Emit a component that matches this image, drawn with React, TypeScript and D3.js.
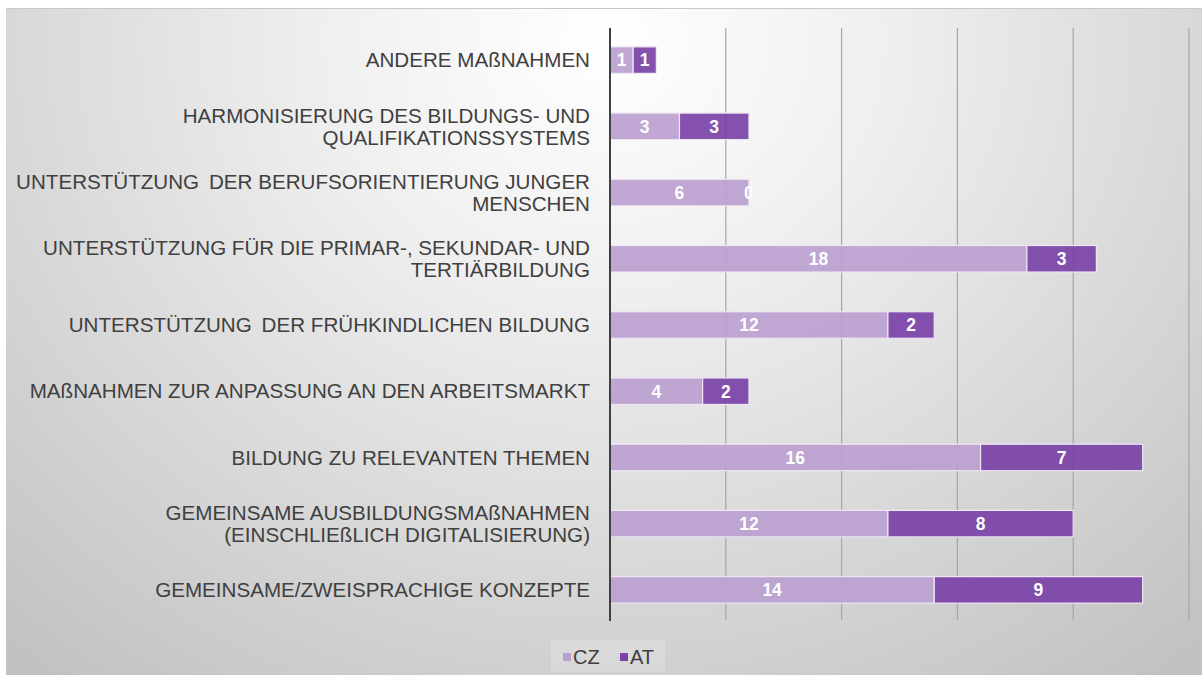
import * as d3 from "d3";
import React from "react";

// categories, top to bottom, already split into the lines shown
const categories: string[][] = [
  ["ANDERE MAßNAHMEN"],
  ["HARMONISIERUNG DES BILDUNGS- UND", "QUALIFIKATIONSSYSTEMS"],
  ["UNTERSTÜTZUNG\u2009 DER BERUFSORIENTIERUNG JUNGER", "MENSCHEN"],
  ["UNTERSTÜTZUNG FÜR DIE PRIMAR-, SEKUNDAR- UND", "TERTIÄRBILDUNG"],
  ["UNTERSTÜTZUNG\u2009 DER FRÜHKINDLICHEN BILDUNG"],
  ["MAßNAHMEN ZUR ANPASSUNG AN DEN ARBEITSMARKT"],
  ["BILDUNG ZU RELEVANTEN THEMEN"],
  ["GEMEINSAME AUSBILDUNGSMAßNAHMEN", "(EINSCHLIEßLICH DIGITALISIERUNG)"],
  ["GEMEINSAME/ZWEISPRACHIGE KONZEPTE"],
];
const cz = [1, 3, 6, 18, 12, 4, 16, 12, 14];
const at = [1, 3, 0, 3, 2, 2, 7, 8, 9];
const seriesNames = ["CZ", "AT"];
const colors = ["#bb9fd0", "#7a42a7"];
const gridTicks = [5, 10, 15, 20, 25];

const W = 1202;
const H = 675;

export default function App() {
  const x = d3.scaleLinear().domain([0, 25]).range([610, 1189]);
  const y = d3
    .scaleBand<number>()
    .domain(d3.range(categories.length))
    .range([27, 623])
    .paddingInner(0.6)
    .paddingOuter(0.3);

  const rows = categories.map((c, i) => ({ i, c, vals: [cz[i], at[i]] }));

  return (
    <div style={{ position: "fixed", left: 0, top: 0 }}>
      <svg width={W} height={H} style={{ display: "block", fontFamily: "Arial, 'Liberation Sans', sans-serif" }}>
        <defs>
          <radialGradient id="bg" cx="0.5" cy="0.05" r="0.75" gradientUnits="objectBoundingBox" gradientTransform="translate(0.5 0.05) scale(1 1.6) translate(-0.5 -0.05)">
            <stop offset="0" stopColor="#ffffff" />
            <stop offset="0.3" stopColor="#f0f0f0" />
            <stop offset="1" stopColor="#c2c2c2" />
          </radialGradient>
        </defs>
        <rect x={0} y={0} width={W} height={H} fill="#ffffff" />
        <rect x={6} y={8} width={W - 6} height={H - 8} fill="url(#bg)" />
        <line x1={6} x2={W} y1={8.5} y2={8.5} stroke="#c8c8c8" strokeWidth={1} />

        {/* gridlines */}
        {gridTicks.map((t) => (
          <line key={t} x1={x(t)} x2={x(t)} y1={28} y2={620} stroke="#a6a6a6" strokeWidth={1.2} />
        ))}

        {/* bars */}
        {rows.map((r) => {
          let acc = 0;
          const yy = y(r.i)!;
          const bh = y.bandwidth();
          return (
            <g key={r.i}>
              {r.vals.map((v, s) => {
                const x0 = x(acc);
                acc += v;
                const w = x(acc) - x0;
                return v > 0 ? (
                  <rect key={s} x={x0} y={yy} width={w} height={bh} fill={colors[s]} fillOpacity={0.92} stroke="#efe6f5" strokeWidth={1.2} />
                ) : null;
              })}
            </g>
          );
        })}

        <clipPath id="zeroclip">
          <rect x={0} y={0} width={x(6) + 3} height={H} />
        </clipPath>

        {/* value labels */}
        {rows.map((r) => {
          let acc = 0;
          const yy = y(r.i)! + y.bandwidth() / 2;
          return r.vals.map((v, s) => {
            const x0 = x(acc);
            acc += v;
            const cx = (x0 + x(acc)) / 2;
            return (
              <text
                key={`${r.i}-${s}`}
                x={cx}
                y={yy}
                dy="0.36em"
                textAnchor="middle"
                fill="#ffffff"
                fontWeight="bold"
                fontSize={17.5}
                clipPath={v === 0 ? "url(#zeroclip)" : undefined}
              >
                {v}
              </text>
            );
          });
        })}

        {/* axis */}
        <line x1={610} x2={610} y1={28} y2={621} stroke="#404040" strokeWidth={2} />

        {/* category labels */}
        {rows.map((r) => {
          const cy = y(r.i)! + y.bandwidth() / 2;
          const lh = 22;
          const start = cy - ((r.c.length - 1) * lh) / 2;
          return (
            <text key={r.i} textAnchor="end" fill="#404040" fontSize={20.6} style={{ whiteSpace: "pre" }}>
              {r.c.map((line, k) => (
                <tspan key={k} x={590} y={start + k * lh} dy="0.35em">
                  {line}
                </tspan>
              ))}
            </text>
          );
        })}

        {/* legend */}
        <rect x={551} y={640} width={114} height={32} fill="#ffffff" fillOpacity={0.18} />
        {seriesNames.map((n, i) => {
          const lx = 563 + i * 57;
          return (
            <g key={n}>
              <rect x={lx} y={653} width={8} height={8} fill={colors[i]} />
              <text x={lx + 10} y={657} dy="0.36em" fontSize={20} fill="#404040">
                {n}
              </text>
            </g>
          );
        })}
      </svg>
    </div>
  );
}
